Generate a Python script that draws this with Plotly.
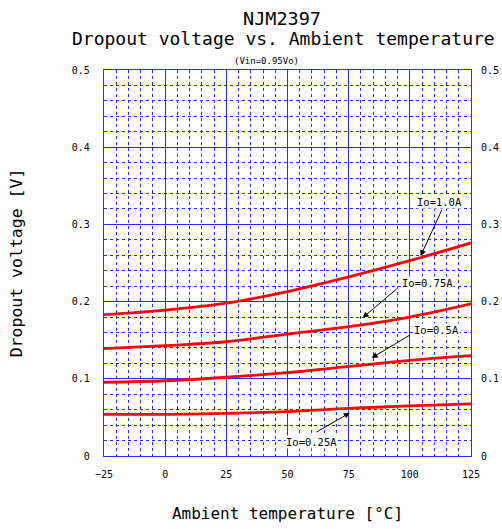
import plotly.graph_objects as go

temps = [-25, 0, 25, 50, 75, 100, 125]
v_1p0 = [0.183, 0.189, 0.198, 0.213, 0.232, 0.253, 0.276]
v_0p75 = [0.139, 0.143, 0.148, 0.158, 0.1675, 0.180, 0.197]
v_0p5 = [0.0955, 0.0975, 0.102, 0.108, 0.116, 0.124, 0.130]
v_0p25 = [0.054, 0.054, 0.0553, 0.0574, 0.0617, 0.0648, 0.0674]

series_names = ["Io=1.0A", "Io=0.75A", "Io=0.5A", "Io=0.25A"]
series_vals = [v_1p0, v_0p75, v_0p5, v_0p25]

# annotation: (label, head_x, head_y, tail_x, tail_y, text_x, text_y)
labels = [
    ("Io=1.0A", 104.4, 0.259, 113.4, 0.321, 112.3, 0.329),
    ("Io=0.75A", 80.7, 0.179, 95.2, 0.218, 107.4, 0.224),
    ("Io=0.5A", 84.4, 0.127, 100.7, 0.158, 111.0, 0.163),
    ("Io=0.25A", 75.5, 0.056, 61.2, 0.0298, 59.9, 0.0185),
]

x_ticks = [-25, 0, 25, 50, 75, 100, 125]
y_ticks = [0, 0.1, 0.2, 0.3, 0.4, 0.5]
y_tick_text = ["0", "0.1", "0.2", "0.3", "0.4", "0.5"]

GRID = "#2a2aff"
MONO = "DejaVu Sans Mono"

fig = go.Figure()
for name, vals in zip(series_names, series_vals):
    fig.add_trace(go.Scatter(x=temps, y=vals, mode="lines", name=name,
                             line=dict(color="#ff0000", width=2.8, shape="spline", smoothing=1.0),
                             showlegend=False))
# invisible trace so the right-hand axis is drawn
fig.add_trace(go.Scatter(x=temps, y=v_1p0, yaxis="y2", mode="lines",
                         line=dict(color="rgba(0,0,0,0)"), showlegend=False, hoverinfo="skip"))

axis_common = dict(showline=True, linecolor=GRID, linewidth=1.2, mirror=True,
                   gridcolor=GRID, gridwidth=1, zeroline=False, ticks="", automargin=False,
                   tickfont=dict(family=MONO, size=10, color="#000"))

fig.update_layout(
    width=502, height=529,
    margin=dict(l=104, r=31, t=70, b=73),
    paper_bgcolor="white", plot_bgcolor="white",
    xaxis=dict(range=[-25, 125], tickvals=x_ticks,
               minor=dict(dtick=5, showgrid=True, gridcolor=GRID, griddash="dot", gridwidth=1),
               title=dict(text="Ambient temperature [°C]", font=dict(family=MONO, size=16, color="#000"), standoff=28),
               ticklabelstandoff=9,
               **axis_common),
    yaxis=dict(range=[0, 0.5], tickvals=y_ticks, ticktext=y_tick_text,
               minor=dict(dtick=0.02, showgrid=True, gridcolor=GRID, griddash="dot", gridwidth=1),
               title=dict(text="Dropout voltage [V]", font=dict(family=MONO, size=16.5, color="#000"), standoff=45),
               ticklabelstandoff=11,
               **axis_common),
    yaxis2=dict(range=[0, 0.5], overlaying="y", side="right", anchor="x",
                tickvals=y_ticks, ticktext=y_tick_text, showgrid=False, zeroline=False,
                showline=False, ticks="", ticklabelstandoff=9, automargin=False,
                tickfont=dict(family=MONO, size=10, color="#000")),
)

annotations = [
    dict(text="NJM2397", xref="paper", yref="paper", x=0.485, y=1, yshift=52,
         showarrow=False, font=dict(family=MONO, size=18.5, color="#000"), yanchor="middle"),
    dict(text="Dropout voltage vs. Ambient temperature", xref="paper", yref="paper", x=0.49, y=1, yshift=32,
         showarrow=False, font=dict(family=MONO, size=18, color="#000"), yanchor="middle"),
    dict(text="(Vin=0.95Vo)", xref="paper", yref="paper", x=0.443, y=1, yshift=9,
         showarrow=False, font=dict(family=MONO, size=9, color="#000"), yanchor="middle"),
]
for lab, hx, hy, tx, ty, lx, ly in labels:
    annotations.append(dict(x=hx, y=hy, ax=tx, ay=ty, xref="x", yref="y", axref="x", ayref="y",
                            text="", showarrow=True, arrowhead=2, arrowsize=1.2, arrowwidth=1,
                            arrowcolor="#000"))
    annotations.append(dict(x=lx, y=ly, xref="x", yref="y", text=lab, showarrow=False,
                            bgcolor="white", borderpad=0,
                            font=dict(family=MONO, size=10.5, color="#000")))
fig.update_layout(annotations=annotations)

fig.write_html("out.html", config={"displayModeBar": False},
               post_script="document.body.style.margin='0';document.body.style.overflow='hidden';")
